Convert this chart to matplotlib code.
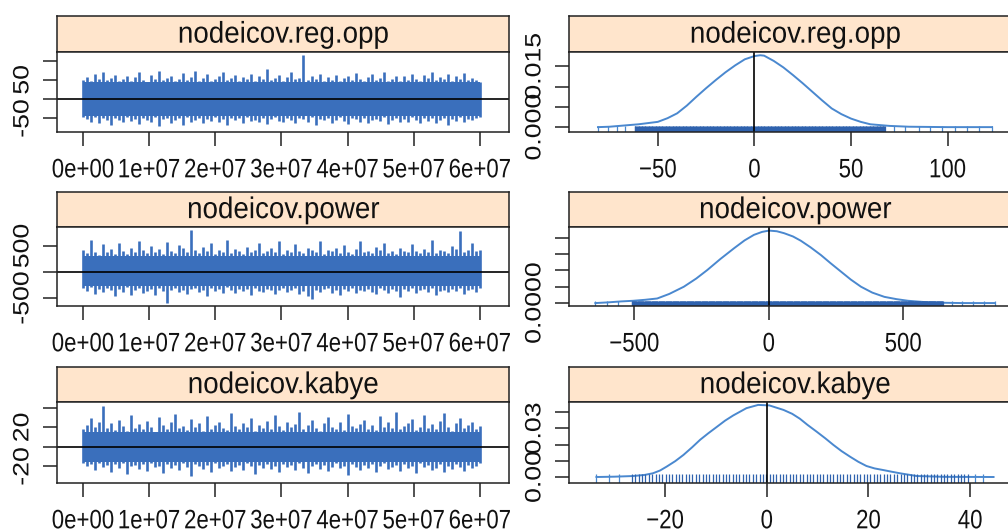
import numpy as np
import matplotlib
matplotlib.use('Agg')
import matplotlib.pyplot as plt
import matplotlib.transforms as mtransforms
from matplotlib import patheffects

plt.rcParams['font.family'] = ['Liberation Sans', 'DejaVu Sans']

# ---- data ----
names = ['nodeicov.reg.opp', 'nodeicov.power', 'nodeicov.kabye']
iter_start, iter_end = 0, 6e7

# trace envelopes (upper / lower edge of the chain, 100 blocks each)
hi_regopp = [50, 58, 47, 66, 52, 71, 49, 55, 62, 46, 53, 60, 48, 57, 69, 50, 45, 63, 52, 74,
             49, 56, 61, 47, 53, 67, 50, 58, 72, 48, 55, 64, 46, 51, 59, 70, 49, 54, 62, 47,
             57, 52, 66, 48, 60, 53, 78, 50, 56, 63, 47, 58, 69, 51, 55, 114, 49, 61, 53, 66,
             48, 57, 50, 63, 46, 54, 60, 49, 67, 52, 47, 58, 64, 50, 55, 71, 48, 53, 61, 46,
             59, 50, 66, 52, 48, 62, 55, 70, 49, 57, 51, 64, 47, 60, 53, 68, 49, 56, 50, 45]
lo_regopp = [-45, -52, -58, -47, -62, -50, -55, -66, -48, -53, -60, -46, -57, -51, -64, -49, -54, -59, -47, -70,
             -52, -48, -61, -55, -50, -67, -46, -58, -53, -49, -63, -51, -56, -47, -60, -52, -68, -48, -55, -50,
             -62, -46, -57, -53, -59, -49, -65, -51, -47, -56, -60, -50, -54, -63, -48, -52, -58, -46, -66, -51,
             -55, -49, -61, -53, -47, -57, -64, -50, -52, -59, -48, -62, -54, -51, -57, -46, -65, -53, -49, -58,
             -52, -60, -47, -55, -63, -50, -56, -48, -61, -53, -49, -67, -51, -57, -46, -59, -52, -55, -50, -47]
hi_power = [420, 360, 610, 390, 330, 540, 380, 450, 350, 560, 400, 340, 470, 380, 590, 420, 360, 500, 390, 440,
            350, 580, 410, 370, 520, 460, 390, 808, 430, 360, 480, 400, 560, 350, 420, 390, 610, 370, 450, 400,
            340, 490, 380, 430, 560, 360, 410, 470, 390, 600, 350, 420, 380, 540, 400, 360, 470, 420, 380, 590,
            350, 430, 400, 460, 370, 520, 390, 350, 440, 600, 380, 410, 360, 480, 420, 560, 370, 400, 350, 470,
            410, 380, 540, 400, 360, 450, 390, 620, 370, 430, 410, 360, 500, 440, 790, 380, 420, 560, 400, 430]
lo_power = [-300, -360, -280, -420, -330, -390, -310, -350, -470, -320, -380, -290, -440, -340, -310, -400, -360, -330, -450, -300,
            -370, -596, -340, -310, -390, -350, -420, -320, -300, -380, -340, -460, -310, -360, -330, -400, -290, -350, -410, -320,
            -370, -330, -440, -300, -360, -390, -320, -350, -420, -340, -310, -380, -350, -300, -430, -360, -470, -520, -340, -390,
            -330, -310, -400, -350, -450, -320, -370, -300, -410, -340, -360, -320, -380, -430, -310, -350, -400, -330, -370, -480,
            -320, -360, -300, -410, -350, -330, -390, -310, -440, -360, -340, -380, -320, -360, -300, -420, -350, -330, -390, -310]
hi_kabye = [18, 22, 30, 20, 26, 42, 19, 24, 17, 28, 21, 16, 33, 19, 23, 18, 27, 20, 15, 31,
            22, 18, 25, 34, 19, 21, 17, 29, 20, 24, 16, 32, 18, 22, 26, 19, 17, 35, 21, 18,
            24, 20, 30, 16, 22, 19, 27, 18, 33, 21, 17, 25, 20, 23, 36, 18, 22, 28, 19, 16,
            24, 31, 20, 18, 26, 17, 34, 21, 19, 23, 28, 18, 22, 17, 32, 20, 25, 19, 36, 18,
            21, 24, 29, 17, 20, 33, 19, 23, 18, 27, 35, 20, 16, 24, 30, 19, 22, 26, 18, 21]
lo_kabye = [-16, -20, -18, -24, -17, -21, -19, -26, -18, -22, -17, -28, -20, -19, -23, -18, -25, -17, -21, -20,
            -27, -18, -22, -19, -24, -17, -21, -30, -18, -20, -23, -19, -26, -17, -22, -20, -18, -25, -21, -19,
            -24, -17, -20, -28, -19, -22, -18, -23, -20, -26, -18, -21, -19, -24, -17, -22, -27, -20, -18, -23,
            -19, -25, -21, -17, -22, -20, -29, -18, -21, -24, -19, -22, -18, -26, -20, -17, -23, -21, -19, -25,
            -18, -22, -20, -27, -17, -21, -19, -24, -22, -18, -26, -20, -23, -18, -21, -25, -19, -22, -20, -17]
core_regopp = (-44, 44)
core_power = (-260, 300)
core_kabye = (-15, 15)

# density curves
dx_regopp = [-81, -75, -70, -65, -60, -55, -50, -45, -40, -35, -30, -25, -20, -15, -10, -5, 0, 3, 5,
             10, 15, 20, 25, 30, 35, 40, 45, 50, 55, 60, 65, 70, 80, 90, 100, 110, 123]
dy_regopp = [0.0, 0.0001, 0.0003, 0.0005, 0.0007, 0.0010, 0.0013, 0.0022, 0.0034, 0.0053, 0.0075,
             0.0096, 0.0116, 0.0135, 0.0152, 0.0167, 0.0175, 0.0177, 0.0176, 0.0163, 0.0147, 0.0128,
             0.0108, 0.0087, 0.0066, 0.0046, 0.0032, 0.0021, 0.0013, 0.0007, 0.0005, 0.0003, 0.0001,
             0.00005, 0.0, 0.0, 0.0]
dx_power = [-645, -600, -550, -504, -460, -415, -370, -316, -270, -229, -180, -129, -90, -55, -25, 1,
            30, 57, 90, 119, 155, 194, 230, 269, 305, 343, 385, 430, 475, 518, 580, 640, 720, 840]
dy_power = [0.0, 0.00002, 0.00005, 0.00007, 0.0001, 0.00014, 0.00028, 0.0005, 0.00075, 0.00101,
            0.00135, 0.00168, 0.00192, 0.00209, 0.00218, 0.00222, 0.0022, 0.00214, 0.00204, 0.00191,
            0.00171, 0.00147, 0.00122, 0.00096, 0.00072, 0.0005, 0.00032, 0.00019, 0.00012, 0.00007,
            0.00003, 0.00001, 0.0, 0.0]
dx_kabye = [-33.5, -30, -26.3, -24, -22.4, -21, -19.7, -18, -16.4, -14.7, -13.1, -11.5, -9.8, -8.2,
            -6.6, -4, -1.7, 0.5, 3.3, 5, 6.5, 8, 9.8, 11.5, 13.1, 14.7, 16.4, 18, 19.6, 21.2, 22.9,
            24.5, 26.2, 29.5, 35, 44.6]
dy_kabye = [0.0, 0.0002, 0.0006, 0.0013, 0.0023, 0.0040, 0.0064, 0.0098, 0.0136, 0.0183, 0.023,
            0.027, 0.031, 0.0348, 0.038, 0.0425, 0.0445, 0.0442, 0.0414, 0.0390, 0.036, 0.0322,
            0.028, 0.0239, 0.0198, 0.016, 0.0125, 0.0094, 0.0068, 0.0053, 0.0043, 0.0033, 0.0023,
            0.0006, 0.0001, 0.0]

# rug: dense core range and the sparse tail values
rug_core = [(-62, 68), (-510, 650), (-26.5, 40)]
rug_tails = [[-81, -76, -71, -67, 72, 78, 85, 91, 97, 104, 110, 116, 123],
             [-645, -600, -560, 680, 720, 760, 800, 840],
             [-33.5, -31, -29, 41, 42.5]]

trace_hi = [hi_regopp, hi_power, hi_kabye]
trace_lo = [lo_regopp, lo_power, lo_kabye]
cores = [core_regopp, core_power, core_kabye]
dens_x = [dx_regopp, dx_power, dx_kabye]
dens_y = [dy_regopp, dy_power, dy_kabye]

# axis settings
trace_ylim = [(-85, 122), (-654, 865), (-37, 46)]
trace_yticks = [[-50, 0, 50, 100], [-500, 0, 500], [-20, 0, 20, 40]]
trace_ylabels = [['-50', '', '50', ''], ['-500', '', '500'], ['-20', '', '20', '']]
dens_xlim = [(-96, 138), (-743, 938), (-38.9, 50)]
dens_ylim = [(-0.0012, 0.0185), (-0.00009, 0.00233), (-0.0037, 0.0463)]
dens_xticks = [[-50, 0, 50, 100], [-500, 0, 500], [-20, 0, 20, 40]]
dens_yticks = [[0, 0.005, 0.010, 0.015], [0, 0.0005, 0.001, 0.0015, 0.002], [0, 0.01, 0.02, 0.03, 0.04]]
dens_ylabels = [['0.000', '', '', '0.015'], ['0.0000', '', '', '', ''], ['0.00', '', '', '0.03', '']]
rug_step = [0.4, 2.0, 0.66]
rug_h = [0.075, 0.06, 0.11]

# ---- layout in pixels ----
W, H = 1008, 532
rows = [(16, 52, 132), (192, 227, 306), (367, 402, 483)]
left_x = (57, 509)
right_x = (569, 1021)

trace_col = '#3a6fbc'
dens_col = '#4a88cf'
rug_col = '#2f62ae'
strip_col = '#ffe5cc'
tick_fs = 16
strip_fs = 20


class Stretch(patheffects.AbstractPathEffect):
    """stretch text vertically (on screen) around its centre, like the squashed original"""

    def __init__(self, s):
        super().__init__()
        self.s = s

    def draw_path(self, renderer, gc, tpath, affine, rgbFace=None):
        bb = tpath.get_extents(affine)
        cx, cy = bb.x0 + bb.width / 2, bb.y0 + bb.height / 2
        extra = mtransforms.Affine2D().translate(-cx, -cy).scale(1, self.s).translate(cx, cy)
        renderer.draw_path(gc, tpath, affine + extra, rgbFace)


fig = plt.figure(figsize=(W / 100, H / 100), dpi=100)


def px_axes(x0, y0, x1, y1):
    return fig.add_axes([x0 / W, 1 - y1 / H, (x1 - x0) / W, (y1 - y0) / H])


def strip(x0, x1, y0, y1, title):
    s = px_axes(x0, y0, x1, y1)
    s.set_facecolor(strip_col)
    s.set_xticks([])
    s.set_yticks([])
    for sp in s.spines.values():
        sp.set_linewidth(1.1)
        sp.set_color('#222222')
    t = s.text(0.5, 0.47, title, ha='center', va='center', fontsize=strip_fs,
               color='#111111', transform=s.transAxes)
    t.set_path_effects([Stretch(1.08)])


def style(ax):
    for sp in ax.spines.values():
        sp.set_linewidth(1.1)
        sp.set_color('#222222')
    ax.tick_params(direction='out', length=10, width=1.1,
                   labelsize=tick_fs, color='#222222', labelcolor='#111111')
    ax.tick_params(axis='x', pad=10)
    ax.tick_params(axis='y', pad=7)
    for lab in ax.get_xticklabels() + ax.get_yticklabels():
        lab.set_path_effects([Stretch(1.2)])


for i in range(3):
    ys, yp, yb = rows[i]

    # trace panel
    strip(left_x[0], left_x[1], ys, yp, names[i])
    ax = px_axes(left_x[0], yp, left_x[1], yb)
    hi = np.array(trace_hi[i])
    lo = np.array(trace_lo[i])
    it = np.linspace(iter_start, iter_end, len(hi))
    ax.fill_between([iter_start, iter_end], cores[i][0], cores[i][1], color=trace_col, lw=0)
    ax.vlines(it, lo, hi, color=trace_col, lw=1.9)
    ax.axhline(0, color='black', lw=1.2)
    ax.set_xlim(-3.93e6, 6.44e7)
    ax.set_ylim(*trace_ylim[i])
    ax.set_xticks([0, 1e7, 2e7, 3e7, 4e7, 5e7, 6e7])
    ax.set_xticklabels(['0e+00', '1e+07', '2e+07', '3e+07', '4e+07', '5e+07', '6e+07'])
    ax.set_yticks(trace_yticks[i])
    ax.set_yticklabels(trace_ylabels[i], rotation=90, va='center')
    style(ax)

    # density panel
    strip(right_x[0], right_x[1], ys, yp, names[i])
    ax2 = px_axes(right_x[0], yp, right_x[1], yb)
    ax2.plot(dens_x[i], dens_y[i], color=dens_col, lw=1.4)
    trans = mtransforms.blended_transform_factory(ax2.transData, ax2.transAxes)
    core_pos = np.arange(rug_core[i][0], rug_core[i][1], rug_step[i])
    ax2.vlines(core_pos, 0, rug_h[i], color=rug_col, lw=0.9, transform=trans)
    ax2.vlines(rug_tails[i], 0, rug_h[i], color=dens_col, lw=0.9, transform=trans)
    ax2.axvline(0, color='black', lw=1.2)
    ax2.set_xlim(*dens_xlim[i])
    ax2.set_ylim(*dens_ylim[i])
    ax2.set_xticks(dens_xticks[i])
    ax2.set_yticks(dens_yticks[i])
    ax2.set_yticklabels(dens_ylabels[i], rotation=90, va='center')
    style(ax2)

fig.savefig('out.png', dpi=100)
